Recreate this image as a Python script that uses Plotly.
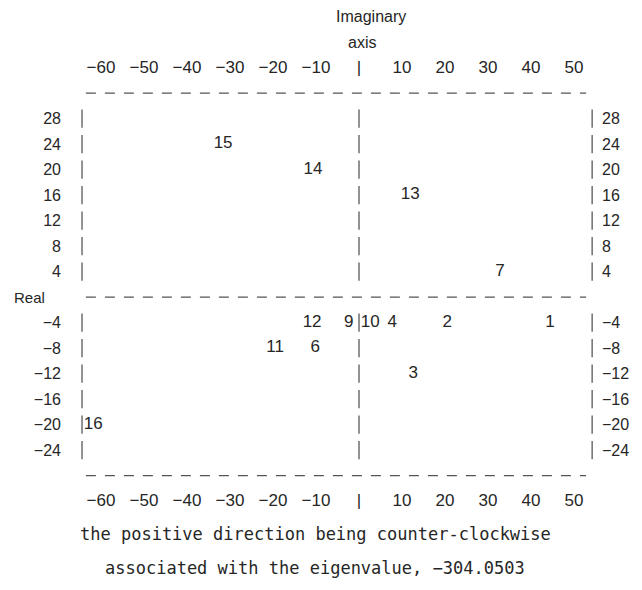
import plotly.graph_objects as go

# ---- data (x = imaginary part, y = real part) ----
point_labels = ["1", "2", "3", "4", "6", "7", "9", "10", "11", "12", "13", "14", "15", "16"]
imag_values = [44.4, 20.5, 12.6, 7.7, -10.2, 32.8, -2.4, 2.6, -19.5, -10.9, 11.9, -10.7, -31.6, -61.8]
real_values = [-4, -4, -12, -4, -8, 4, -4, -4, -8, -4, 16, 20, 24, -20]

x_tick_values = [-60, -50, -40, -30, -20, -10, 0, 10, 20, 30, 40, 50]
x_tick_labels = ["\u221260", "\u221250", "\u221240", "\u221230", "\u221220", "\u221210", "|",
                 "10", "20", "30", "40", "50"]
y_tick_values = [28, 24, 20, 16, 12, 8, 4, -4, -8, -12, -16, -20, -24]
y_tick_labels = ["28", "24", "20", "16", "12", "8", "4",
                 "\u22124", "\u22128", "\u221212", "\u221216", "\u221220", "\u221224"]

frame_columns = [-64.4, 0, 54.2]      # left border, imaginary axis, right border
frame_rows = [32, 0, -28]             # top border, real axis, bottom border
rule_span = [-63.5, 52.8]
x_range = [-65.8, 55.1]
y_range = [-29.0, 32.8]

FONT = "Liberation Sans, Arial, sans-serif"
MONO = "DejaVu Sans Mono, Liberation Mono, monospace"
INK = "#262626"

fig = go.Figure()

# dashed horizontal rules (typed "- - - -")
for r in frame_rows:
    fig.add_trace(go.Scatter(
        x=rule_span, y=[r, r], mode="lines",
        line=dict(color="#555", width=1.3, dash="10px,9px"),
        hoverinfo="skip", showlegend=False))

# typed vertical bars "|" on every printed row
for i, c in enumerate(frame_columns):
    fig.add_trace(go.Scatter(
        x=[c] * len(y_tick_values), y=y_tick_values, mode="markers",
        marker=dict(symbol="line-ns", size=13, line=dict(width=1.2, color="#4a4a4a")),
        hoverinfo="skip", showlegend=False,
        xaxis="x2" if i == 2 else "x", yaxis="y2" if i == 2 else "y"))

# plotted points (the numbers themselves are the plotting symbols)
fig.add_trace(go.Scatter(
    x=imag_values, y=real_values, mode="text", text=point_labels,
    textfont=dict(family=FONT, size=17, color=INK),
    cliponaxis=False, showlegend=False))

axis_common = dict(range=x_range, showgrid=False, zeroline=False, showline=False,
                   ticks="", tickmode="array", tickvals=x_tick_values,
                   ticktext=x_tick_labels, tickfont=dict(family=FONT, size=17, color=INK))
yaxis_common = dict(range=y_range, showgrid=False, zeroline=False, showline=False,
                    ticks="", tickmode="array", tickvals=y_tick_values,
                    ticktext=y_tick_labels, tickfont=dict(family=FONT, size=16, color=INK))

fig.update_layout(
    width=642, height=590,
    margin=dict(l=68, r=54, t=80, b=116),
    paper_bgcolor="white", plot_bgcolor="white",
    xaxis=dict(axis_common, side="bottom", ticklabelstandoff=6),
    xaxis2=dict(axis_common, side="top", overlaying="x", ticklabelstandoff=11),
    yaxis=dict(yaxis_common, side="left", ticklabelstandoff=14),
    yaxis2=dict(yaxis_common, side="right", overlaying="y", ticklabelstandoff=5),
    annotations=[
        dict(text="Imaginary", xref="paper", yref="paper", x=0.567, y=1.0, yshift=72,
             yanchor="middle", showarrow=False, font=dict(family=FONT, size=16, color=INK)),
        dict(text="axis", xref="paper", yref="paper", x=0.55, y=1.0, yshift=46,
             yanchor="middle", showarrow=False, font=dict(family=FONT, size=16, color=INK)),
        dict(text="Real", xref="paper", yref="y", x=0, xshift=-64, y=0,
             xanchor="left", yanchor="middle", showarrow=False,
             font=dict(family=FONT, size=15, color=INK)),
        dict(text="the positive direction being counter-clockwise", xref="paper", yref="paper",
             x=0.46, y=0, yshift=-52, yanchor="middle", showarrow=False,
             font=dict(family=MONO, size=17, color=INK)),
        dict(text="associated with the eigenvalue, \u2212304.0503", xref="paper", yref="paper",
             x=0.46, y=0, yshift=-86, yanchor="middle", showarrow=False,
             font=dict(family=MONO, size=17, color=INK)),
    ],
)

fig.write_html("out.html")
